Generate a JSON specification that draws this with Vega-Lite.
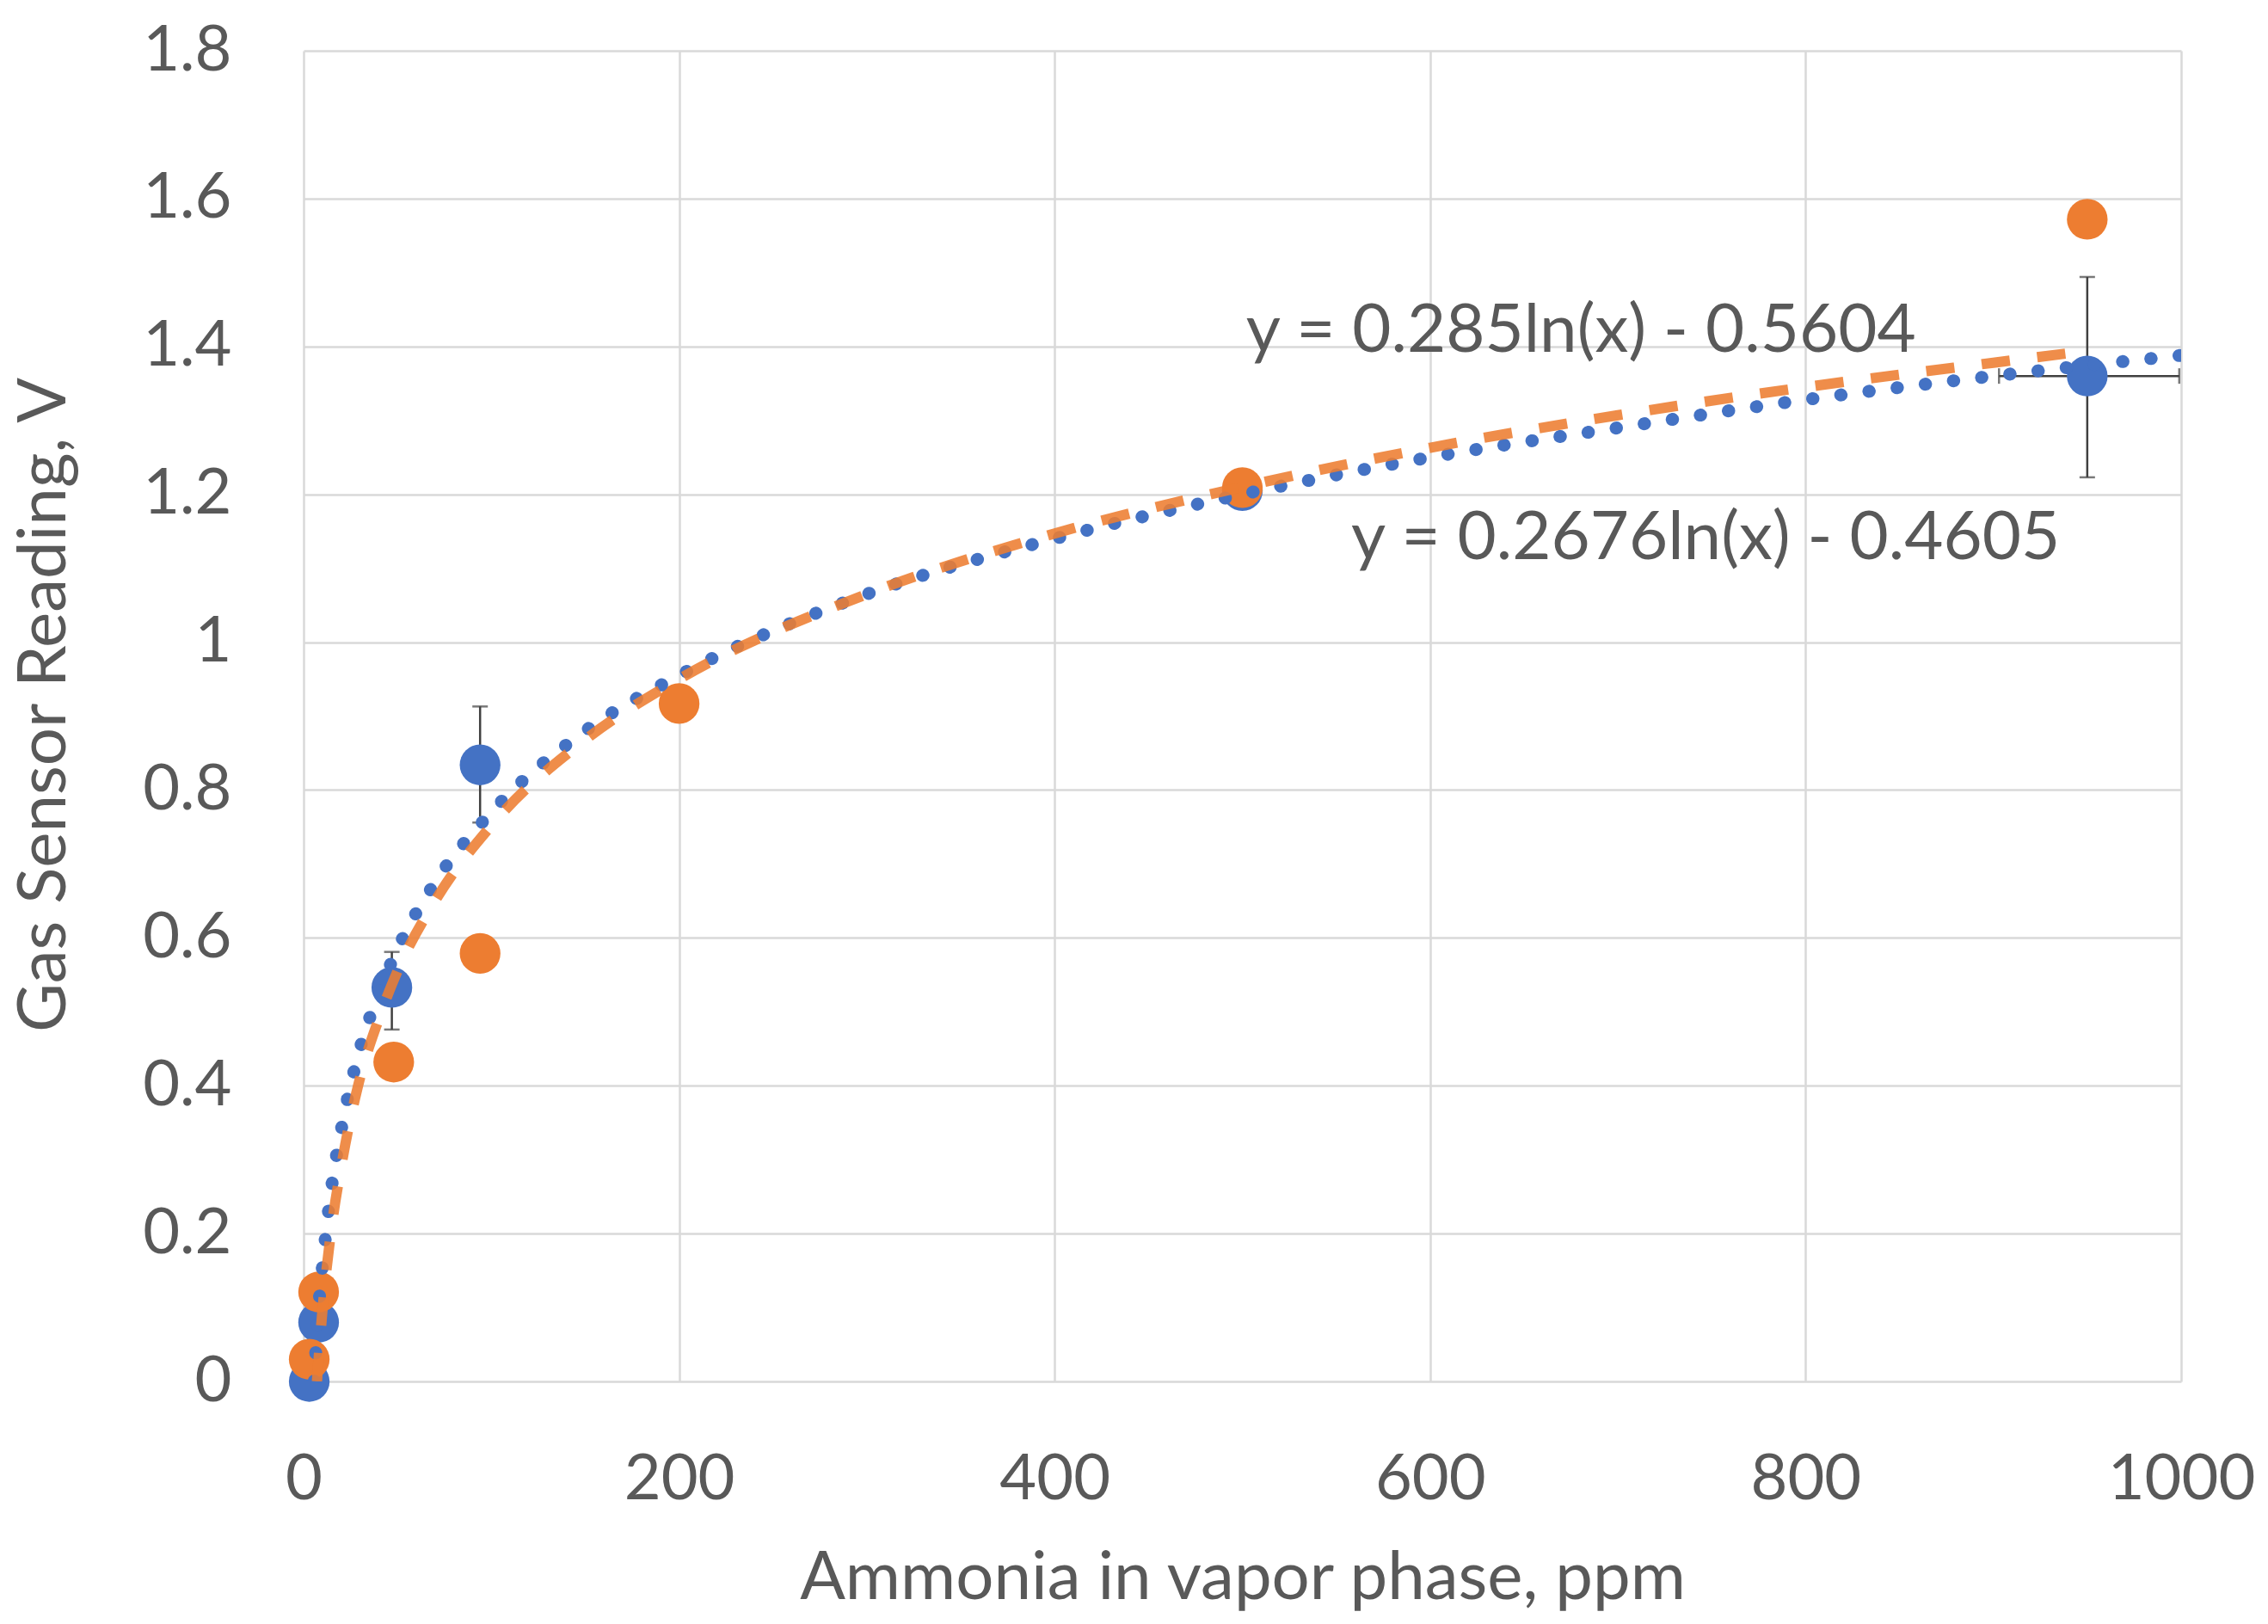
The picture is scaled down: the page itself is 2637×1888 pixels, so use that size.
{
  "$schema": "https://vega.github.io/schema/vega-lite/v6.json",
  "description": "Gas sensor reading against ammonia in vapor phase, two series with logarithmic trendlines.",
  "width": 2183,
  "height": 1547,
  "autosize": {"type": "none"},
  "padding": {"left": 353, "top": 59, "right": 101, "bottom": 282},
  "background": "white",
  "config": {
    "view": {"stroke": null},
    "axis": {
      "domain": false,
      "ticks": false,
      "grid": true,
      "gridColor": "#D9D9D9",
      "gridWidth": 2.5,
      "labelFont": "Lato",
      "labelFontSize": 74,
      "labelColor": "#595959",
      "labelFlush": false,
      "labelOverlap": false,
      "labelLimit": 400,
      "titleFont": "Lato",
      "titleFontSize": 78,
      "titleFontWeight": "normal",
      "titleColor": "#595959"
    }
  },
  "datasets": {
    "points": [
      {"series": "blue", "ppm": 3, "reading": 0.0},
      {"series": "blue", "ppm": 8, "reading": 0.08},
      {"series": "blue", "ppm": 47, "reading": 0.533},
      {"series": "blue", "ppm": 94, "reading": 0.834},
      {"series": "blue", "ppm": 500, "reading": 1.205},
      {"series": "blue", "ppm": 950, "reading": 1.36},
      {"series": "orange", "ppm": 3, "reading": 0.03},
      {"series": "orange", "ppm": 8, "reading": 0.121},
      {"series": "orange", "ppm": 48, "reading": 0.432},
      {"series": "orange", "ppm": 94, "reading": 0.579},
      {"series": "orange", "ppm": 200, "reading": 0.917},
      {"series": "orange", "ppm": 500, "reading": 1.209},
      {"series": "orange", "ppm": 950, "reading": 1.572}
    ],
    "yerrors": [
      {"ppm": 47, "lo": 0.476, "hi": 0.581},
      {"ppm": 94, "lo": 0.756, "hi": 0.913},
      {"ppm": 950, "lo": 1.223, "hi": 1.494}
    ],
    "xerrors": [
      {"reading": 1.36, "xlo": 903, "xhi": 999}
    ],
    "trend": [
      {"series": "blue", "ppm": 5.6, "reading": 0.0},
      {"series": "blue", "ppm": 8, "reading": 0.1},
      {"series": "blue", "ppm": 10, "reading": 0.155},
      {"series": "blue", "ppm": 15, "reading": 0.265},
      {"series": "blue", "ppm": 20, "reading": 0.34},
      {"series": "blue", "ppm": 30, "reading": 0.45},
      {"series": "blue", "ppm": 40, "reading": 0.525},
      {"series": "blue", "ppm": 50, "reading": 0.585},
      {"series": "blue", "ppm": 70, "reading": 0.675},
      {"series": "blue", "ppm": 100, "reading": 0.77},
      {"series": "blue", "ppm": 150, "reading": 0.88},
      {"series": "blue", "ppm": 200, "reading": 0.955},
      {"series": "blue", "ppm": 300, "reading": 1.065},
      {"series": "blue", "ppm": 400, "reading": 1.14},
      {"series": "blue", "ppm": 500, "reading": 1.2},
      {"series": "blue", "ppm": 600, "reading": 1.25},
      {"series": "blue", "ppm": 700, "reading": 1.29},
      {"series": "blue", "ppm": 800, "reading": 1.328},
      {"series": "blue", "ppm": 900, "reading": 1.36},
      {"series": "blue", "ppm": 1000, "reading": 1.388},
      {"series": "orange", "ppm": 7.1, "reading": 0.0},
      {"series": "orange", "ppm": 10, "reading": 0.095},
      {"series": "orange", "ppm": 15, "reading": 0.21},
      {"series": "orange", "ppm": 20, "reading": 0.29},
      {"series": "orange", "ppm": 30, "reading": 0.41},
      {"series": "orange", "ppm": 40, "reading": 0.49},
      {"series": "orange", "ppm": 50, "reading": 0.555},
      {"series": "orange", "ppm": 70, "reading": 0.65},
      {"series": "orange", "ppm": 100, "reading": 0.752},
      {"series": "orange", "ppm": 150, "reading": 0.868},
      {"series": "orange", "ppm": 200, "reading": 0.95},
      {"series": "orange", "ppm": 300, "reading": 1.065},
      {"series": "orange", "ppm": 400, "reading": 1.147},
      {"series": "orange", "ppm": 500, "reading": 1.21},
      {"series": "orange", "ppm": 600, "reading": 1.263},
      {"series": "orange", "ppm": 700, "reading": 1.307},
      {"series": "orange", "ppm": 800, "reading": 1.345},
      {"series": "orange", "ppm": 900, "reading": 1.378},
      {"series": "orange", "ppm": 950, "reading": 1.394}
    ],
    "equations": [
      {"label": "y = 0.285ln(x) - 0.5604", "ppm": 502, "reading": 1.419},
      {"label": "y = 0.2676ln(x) - 0.4605", "ppm": 558, "reading": 1.139}
    ]
  },
  "layer": [
    {
      "data": {"name": "yerrors"},
      "mark": {
        "type": "errorbar",
        "color": "#404040",
        "thickness": 2.5,
        "ticks": {"size": 18, "thickness": 2.5, "color": "#404040"}
      },
      "encoding": {
        "x": {
          "field": "ppm",
          "type": "quantitative",
          "title": "Ammonia in vapor phase, ppm",
          "scale": {"domain": [0, 1000], "nice": false},
          "axis": {
            "values": [0, 200, 400, 600, 800, 1000],
            "format": "d",
            "labelPadding": 78,
            "titleY": 252,
            "titleBaseline": "alphabetic"
          }
        },
        "y": {
          "field": "lo",
          "type": "quantitative",
          "title": "Gas Sensor Reading, V",
          "scale": {"domain": [0, 1.8], "nice": false},
          "axis": {
            "values": [0, 0.2, 0.4, 0.6, 0.8, 1, 1.2, 1.4, 1.6, 1.8],
            "format": "~g",
            "labelPadding": 84,
            "titleX": -262,
            "titleY": 760,
            "titleBaseline": "bottom"
          }
        },
        "y2": {"field": "hi"}
      }
    },
    {
      "data": {"name": "xerrors"},
      "mark": {
        "type": "errorbar",
        "color": "#404040",
        "thickness": 2.5,
        "ticks": {"size": 18, "thickness": 2.5, "color": "#404040"}
      },
      "encoding": {
        "x": {"field": "xlo", "type": "quantitative", "title": "Ammonia in vapor phase, ppm", "scale": {"domain": [0, 1000], "nice": false}},
        "x2": {"field": "xhi"},
        "y": {"field": "reading", "type": "quantitative", "title": "Gas Sensor Reading, V", "scale": {"domain": [0, 1.8], "nice": false}}
      }
    },
    {
      "data": {"name": "points"},
      "transform": [{"filter": "datum.series === 'blue'"}],
      "mark": {"type": "circle", "color": "#4472C4", "opacity": 1, "size": 2240},
      "encoding": {
        "x": {"field": "ppm", "type": "quantitative", "title": "Ammonia in vapor phase, ppm", "scale": {"domain": [0, 1000], "nice": false}},
        "y": {"field": "reading", "type": "quantitative", "title": "Gas Sensor Reading, V", "scale": {"domain": [0, 1.8], "nice": false}}
      }
    },
    {
      "data": {"name": "points"},
      "transform": [{"filter": "datum.series === 'orange'"}],
      "mark": {"type": "circle", "color": "#ED7D31", "opacity": 1, "size": 2240},
      "encoding": {
        "x": {"field": "ppm", "type": "quantitative", "title": "Ammonia in vapor phase, ppm", "scale": {"domain": [0, 1000], "nice": false}},
        "y": {"field": "reading", "type": "quantitative", "title": "Gas Sensor Reading, V", "scale": {"domain": [0, 1.8], "nice": false}}
      }
    },
    {
      "data": {"name": "trend"},
      "transform": [{"filter": "datum.series === 'blue'"}],
      "mark": {
        "type": "line",
        "color": "#4472C4",
        "strokeWidth": 15,
        "strokeDash": [0.5, 32.5],
        "strokeCap": "round",
        "interpolate": "monotone",
        "clip": true
      },
      "encoding": {
        "x": {"field": "ppm", "type": "quantitative", "title": "Ammonia in vapor phase, ppm", "scale": {"domain": [0, 1000], "nice": false}},
        "y": {"field": "reading", "type": "quantitative", "title": "Gas Sensor Reading, V", "scale": {"domain": [0, 1.8], "nice": false}}
      }
    },
    {
      "data": {"name": "trend"},
      "transform": [{"filter": "datum.series === 'orange'"}],
      "mark": {
        "type": "line",
        "color": "#ED7D31",
        "strokeWidth": 12,
        "strokeDash": [33, 32],
        "strokeCap": "butt",
        "opacity": 0.88,
        "interpolate": "monotone",
        "clip": true
      },
      "encoding": {
        "x": {"field": "ppm", "type": "quantitative", "title": "Ammonia in vapor phase, ppm", "scale": {"domain": [0, 1000], "nice": false}},
        "y": {"field": "reading", "type": "quantitative", "title": "Gas Sensor Reading, V", "scale": {"domain": [0, 1.8], "nice": false}}
      }
    },
    {
      "data": {"name": "equations"},
      "mark": {
        "type": "text",
        "font": "Lato",
        "fontSize": 78,
        "color": "#595959",
        "align": "left",
        "baseline": "middle"
      },
      "encoding": {
        "x": {"field": "ppm", "type": "quantitative", "title": "Ammonia in vapor phase, ppm", "scale": {"domain": [0, 1000], "nice": false}},
        "y": {"field": "reading", "type": "quantitative", "title": "Gas Sensor Reading, V", "scale": {"domain": [0, 1.8], "nice": false}},
        "text": {"field": "label", "type": "nominal"}
      }
    }
  ]
}
